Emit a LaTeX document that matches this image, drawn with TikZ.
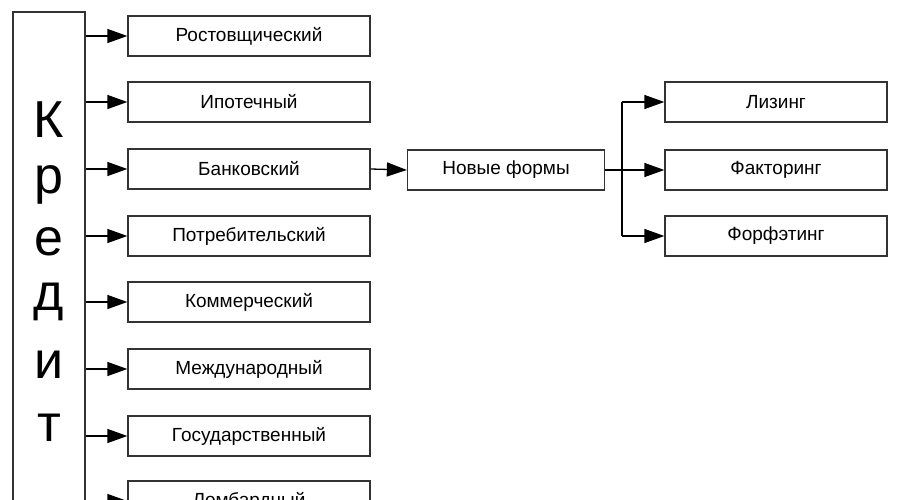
\documentclass[tikz,border=0pt]{standalone}
\usepackage{fontspec}
\setmainfont{Liberation Sans}
\usetikzlibrary{arrows.meta}
\begin{document}
\begin{tikzpicture}[x=1pt,y=-1pt,
  box/.style={draw=black!80,line width=1.3pt,minimum width=242pt,minimum height=40pt,font=\fontsize{19}{22}\selectfont,inner sep=0pt},
  sbox/.style={box,minimum width=222pt},
  arr/.style={line width=1.3pt,-{Triangle[length=20pt,width=14pt]}},
  let/.style={font=\fontsize{52}{56}\selectfont}]
\useasboundingbox (0,0) rectangle (900,500);
\clip (0,0) rectangle (900,500);
\node[draw=black!80,line width=1.3pt,minimum width=72pt,minimum height=560pt,inner sep=0pt] (kr) at (49,292) {};
\foreach \c/\y in {К/120,р/185,е/242,д/302,и/365,т/428}{\node[let] at (49,\y) {\c};}
\foreach \n/\t/\y in {a/Ростовщический/36,b/Ипотечный/102,c/Банковский/169,d/Потребительский/236,e/Коммерческий/302,f/Международный/369,g/Государственный/436,h/Ломбардный/501}{
  \node[box] (\n) at (249,\y) {\t};
  \coordinate (k\n) at (kr.east |- \n);
  \draw[arr] (k\n) -- (\n.west);
}
\node[box,minimum width=197pt] (nf) at (506,170) {Новые формы};
\draw[arr] (c.east) -- (nf.west);
\node[sbox] (l) at (776,102) {Лизинг};
\node[sbox] (f) at (776,170) {Факторинг};
\node[sbox] (ff) at (776,236) {Форфэтинг};
\coordinate (j) at (622,170);
\coordinate (jt) at (j |- l);
\coordinate (jb) at (j |- ff);
\draw[line width=1.3pt] (nf.east) -- (j) (jt) -- (jb);
\draw[arr] (jt) -- (l.west);
\draw[arr] (j) -- (f.west);
\draw[arr] (jb) -- (ff.west);
\end{tikzpicture}
\end{document}
